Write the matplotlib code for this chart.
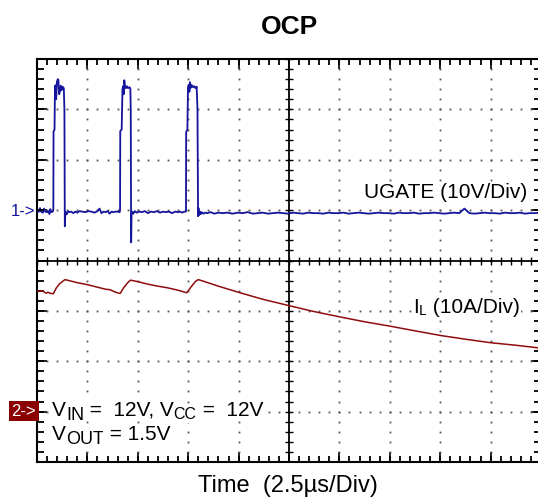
import numpy as np
import matplotlib.pyplot as plt

plt.rcParams['font.family'] = ['Liberation Sans', 'DejaVu Sans']

# UGATE trace: time (us), volts (10V/div, ground at +1 div)
gate_t = [0.00, 0.10, 0.15, 0.20, 0.30, 0.35, 0.42, 0.50, 0.55, 0.62, 0.66, 0.72, 0.78,
          0.81, 0.82, 0.87, 0.89, 0.92, 0.95, 0.99, 1.03, 1.06, 1.10, 1.14, 1.18, 1.22, 1.27, 1.33, 1.36,
          1.38, 1.40, 1.43, 1.48, 1.55, 1.62, 1.70, 1.80, 1.90, 2.00, 2.10, 2.25, 2.40, 2.55, 2.70,
          2.85, 3.00, 3.10, 3.20, 3.30, 3.40, 3.50, 3.60, 3.70, 3.80, 3.90, 4.00, 4.10,
          4.12, 4.13, 4.20, 4.24, 4.27, 4.30, 4.33, 4.37, 4.41, 4.46, 4.52, 4.58, 4.63, 4.65,
          4.67, 4.69, 4.72, 4.78, 4.85, 4.95, 5.05, 5.20, 5.35, 5.50, 5.65, 5.80, 5.95, 6.10,
          6.25, 6.40, 6.55, 6.70, 6.85, 7.00, 7.10, 7.20, 7.30, 7.38,
          7.39, 7.40, 7.46, 7.49, 7.53, 7.56, 7.59, 7.63, 7.68, 7.74, 7.80, 7.86, 7.92, 7.96,
          7.99, 8.01, 8.04, 8.08, 8.12, 8.18, 8.25, 8.35, 8.45, 8.60, 8.80, 9.00, 9.20, 9.45,
          9.70, 9.95, 10.20, 10.45, 10.70, 10.95, 11.20, 11.45, 11.70, 11.95, 12.20, 12.45,
          12.70, 12.95, 13.20, 13.45, 13.70, 13.95, 14.20, 14.45, 14.70, 14.95, 15.20, 15.45,
          15.70, 15.95, 16.20, 16.45, 16.70, 16.95, 17.20, 17.45, 17.70, 17.95, 18.20, 18.45,
          18.70, 18.95, 19.20, 19.45, 19.70, 19.95, 20.20, 20.45, 20.70, 20.95, 21.20, 21.45,
          21.70, 21.95, 22.20, 22.45, 22.70, 22.95, 23.20, 23.45, 23.70, 23.95, 24.20, 24.45,
          24.70, 25.00]
gate_v = [-0.3, -0.3, 0.4, -0.3, -0.5, 0.3, -0.3, -0.4, -0.2, -0.8, 0.2, -0.4, -0.3,
          0.0, 15.6, 16.0, 24.5, 24.8, 22.0, 25.5, 26.0, 25.9, 23.0, 23.6, 24.7, 23.8, 24.5, 24.2, 20.0,
          -3.2, -1.2, -0.4, -0.8, -0.2, -0.4, -0.3, -0.6, -0.3, -0.5, -0.2, -0.3, -0.4, -0.2, -0.3,
          -0.5, -0.2, 0.3, -0.6, -0.3, -0.4, -0.2, -0.7, -0.3, -0.4, -0.3, -0.3, -0.4,
          0.0, 15.7, 16.0, 24.0, 24.6, 23.0, 25.8, 24.5, 24.2, 24.6, 24.2, 24.4, 24.2, 20.0,
          -6.4, -1.0, -0.3, -0.7, -0.2, -0.5, -0.3, -0.4, -0.2, -0.6, -0.3, -0.4, -0.2, -0.5,
          -0.3, -0.4, -0.3, -0.6, -0.3, -0.4, -0.3, -0.5, -0.3, -0.3,
          0.0, 15.5, 16.0, 24.5, 24.9, 23.5, 25.4, 24.3, 24.8, 24.4, 24.6, 24.2, 24.5, 20.0,
          -1.2, 0.4, -1.0, -0.3, -0.8, -0.4, -0.7, -0.5, -0.6, -0.4, -0.7, -0.5, -0.6, -0.5,
          -0.7, -0.5, -0.6, -0.4, -0.7, -0.6, -0.5, -0.7, -0.6, -0.5, -0.6, -0.7,
          -0.5, -0.6, -0.7, -0.5, -0.6, -0.6, -0.7, -0.5, -0.6, -0.6, -0.5, -0.7,
          -0.6, -0.5, -0.6, -0.7, -0.6, -0.5, -0.6, -0.6, -0.7, -0.5, -0.6, -0.6,
          -0.5, -0.7, -0.6, -0.6, -0.5, -0.6, -0.7, -0.6, -0.5, -0.6, 0.3, -0.6,
          -0.7, -0.6, -0.5, -0.6, -0.6, -0.7, -0.5, -0.6, -0.6, -0.5, -0.7, -0.6,
          -0.6, -0.5]

# inductor current trace: time (us), amps (10A/div, ground at -3 div)
il_t = [0.00, 0.30, 0.45, 0.55, 0.64, 0.81, 0.95, 1.10, 1.25, 1.39, 1.60, 2.00, 2.50, 3.00,
        3.40, 3.62, 3.90, 4.12, 4.30, 4.50, 4.64, 5.00, 5.50, 6.00, 6.45, 7.00, 7.43, 7.65,
        7.85, 7.99, 8.09, 9.00, 10.07, 11.20, 12.47, 13.70, 15.03, 16.30, 17.52, 18.80,
        20.04, 21.30, 22.52, 23.70, 25.00]
il_a = [24.0, 23.9, 23.5, 23.7, 23.5, 23.4, 24.5, 25.3, 25.8, 26.2, 26.0, 25.6, 25.2, 24.7,
        24.3, 24.2, 23.7, 23.45, 24.6, 25.6, 26.1, 25.8, 25.3, 24.9, 24.6, 24.1, 23.6, 24.8,
        25.8, 26.2, 26.1, 24.9, 23.6, 22.3, 21.07, 19.9, 18.8, 17.8, 16.96, 16.0,
        15.1, 14.35, 13.67, 13.2, 12.6]

BLUE = '#14149c'
RED = '#8e0c0c'
INK = '#000000'
W, H = 538, 500

fig = plt.figure(figsize=(W / 100, H / 100), dpi=100)
ax = fig.add_axes([37 / W, (H - 462) / H, (541 - 37) / W, (462 - 59) / H])
ax.set_xlim(0, 25)
ax.set_ylim(-50, 30)
ax2 = ax.twinx()
ax2.set_ylim(-10, 70)
ax2.set_yticks([])
for s in ax2.spines.values():
    s.set_visible(False)

ax.set_xticks(np.arange(0, 25.01, 2.5))
ax.set_yticks(np.arange(-50, 30.1, 10))
ax.tick_params(which='major', direction='in', top=True, right=True, length=7.5, width=1.2,
               labelleft=False, labelbottom=False, color=INK)
for s in ax.spines.values():
    s.set_linewidth(1.5)

xmin_ = np.arange(0, 25.01, 0.5)
ymin_ = np.arange(-50, 30.1, 2)

# minor ticks on the frame, as short segments in axes-fraction length
tx = ax.get_xaxis_transform()
ty = ax.get_yaxis_transform()
seg_kw = dict(colors=INK, linewidth=1.3, clip_on=False, zorder=6)
ax.vlines(xmin_, 0, 0.016, transform=tx, **seg_kw)
ax.vlines(xmin_, 0.984, 1, transform=tx, **seg_kw)
ax.hlines(ymin_, 0, 0.013, transform=ty, **seg_kw)
ax.hlines(ymin_, 0.987, 1, transform=ty, **seg_kw)

# dotted graticule
for xv in [2.5, 5, 7.5, 10, 15, 17.5, 20, 22.5]:
    ax.plot(np.full_like(ymin_, xv), ymin_, ls='none', marker='s', ms=1.3,
            color='#555555', mew=0)
for yv in [-40, -30, -20, 0, 10, 20]:
    ax.plot(xmin_, np.full_like(xmin_, yv), ls='none', marker='s', ms=1.3,
            color='#555555', mew=0)

# center cross with ticks
ax.axhline(-10, color=INK, lw=1.3)
ax.axvline(12.5, color=INK, lw=1.3)
ax.plot(xmin_, np.full_like(xmin_, -10), ls='none', marker='|', ms=6, mew=1.0, color=INK)
ax.plot(np.full_like(ymin_, 12.5), ymin_, ls='none', marker='_', ms=6, mew=1.0, color=INK)

ax.plot(gate_t, gate_v, color=BLUE, lw=1.3, zorder=5)
ax2.plot(il_t, il_a, color=RED, lw=1.1, zorder=5)

renderer = fig.canvas.get_renderer()
WHITE_BG = dict(boxstyle='square,pad=0.05', fc='white', ec='none')


def put(txt, x, y, **kw):
    return fig.text(x / W, (H - y) / H, txt, **kw)


def rich(pieces, x, y):
    for txt, fs, dy in pieces:
        t = put(txt, x, y + dy, fontsize=fs, ha='left', va='baseline', bbox=WHITE_BG)
        x = t.get_window_extent(renderer).x1


put('OCP', 289, 34, fontsize=19, fontweight='bold', ha='center', va='baseline')
put('Time  (2.5\u00b5s/Div)', 288, 492, fontsize=17, ha='center', va='baseline')
put('UGATE (10V/Div)', 527, 198, fontsize=15, ha='right', va='baseline', bbox=WHITE_BG)
rich([('I', 15, 0), ('L', 10.5, 2), (' (10A/Div)', 15, 0)], 413, 313)
rich([('V', 15, 0), ('IN', 13, 4), (' =  12V, V', 15, 0), ('CC', 11.5, 3),
      (' =  12V', 15, 0)], 52, 416)
rich([('V', 15, 0), ('OUT', 13, 4), (' = 1.5V', 15, 0)], 52, 440)

put('1->', 35, 211, fontsize=12, color=BLUE, ha='right', va='center')
put('2->', 36, 411, fontsize=12, color='white', ha='right', va='center',
    bbox=dict(boxstyle='square,pad=0.15', fc='#8b0000', ec='none'))

fig.savefig('out.png', dpi=100)
